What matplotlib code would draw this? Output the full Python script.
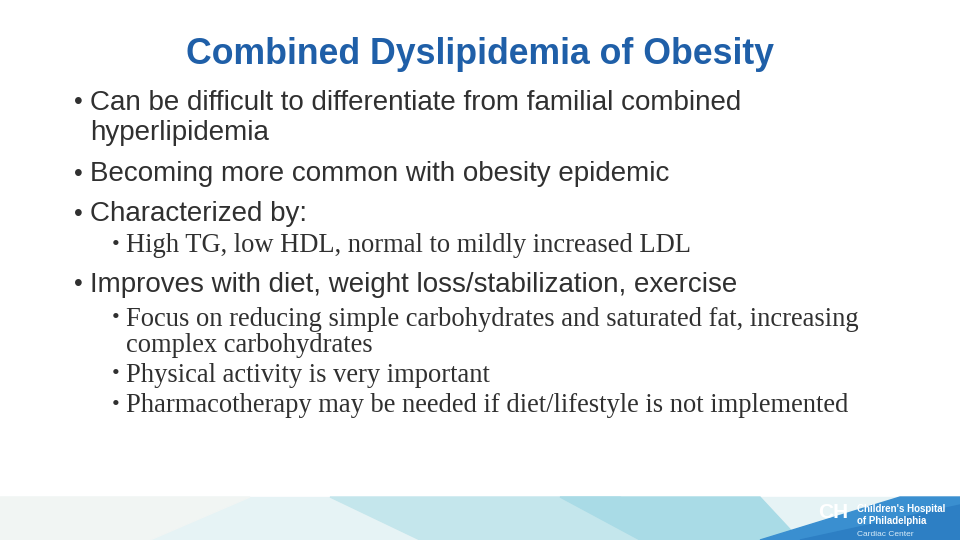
import matplotlib.pyplot as plt
from matplotlib.patches import Polygon

title = "Combined Dyslipidemia of Obesity"
# (level, text, y pixel, bullet?)
lines = [
    (0, "Can be difficult to differentiate from familial combined", 102, True),
    (0, "hyperlipidemia", 132, False),
    (0, "Becoming more common with obesity epidemic", 173, True),
    (0, "Characterized by:", 213, True),
    (1, "High TG, low HDL, normal to mildly increased LDL", 245, True),
    (0, "Improves with diet, weight loss/stabilization, exercise", 284, True),
    (1, "Focus on reducing simple carbohydrates and saturated fat, increasing", 318, True),
    (1, "complex carbohydrates", 344, False),
    (1, "Physical activity is very important", 374, True),
    (1, "Pharmacotherapy may be needed if diet/lifestyle is not implemented", 405, True),
]

W, H = 960, 540
fig = plt.figure(figsize=(9.6, 5.4), dpi=100)
fig.patch.set_facecolor("white")
ax = fig.add_axes([0, 0, 1, 1])
ax.set_xlim(0, W)
ax.set_ylim(H, 0)
ax.axis("off")

ax.text(480, 50, title, ha="center", va="center_baseline", fontsize=25.7, fontweight="bold",
        color="#1f5fa8", family="Liberation Sans")

for level, txt, y, bullet in lines:
    if level == 0:
        if bullet:
            ax.text(74, y - 2, "•", ha="left", va="center_baseline", fontsize=18, color="#303030",
                    family="Liberation Sans")
        ax.text(90, y - 2, txt, ha="left", va="center_baseline", fontsize=20, color="#303030",
                family="Liberation Sans")
    else:
        if bullet:
            ax.text(112, y - 2, "•", ha="left", va="center_baseline", fontsize=16, color="#303030",
                    family="Liberation Serif")
        ax.text(126, y - 2, txt, ha="left", va="center_baseline", fontsize=19.1, color="#303030",
                family="Liberation Serif")

# bottom banner
ax.add_patch(Polygon([[0, 497], [960, 497], [960, 540], [0, 540]], color="#e6f3f5"))
ax.add_patch(Polygon([[0, 497], [250, 497], [150, 540], [0, 540]], color="#f1f5f3"))
ax.add_patch(Polygon([[330, 497], [620, 497], [700, 540], [420, 540]], color="#c4e6ec"))
ax.add_patch(Polygon([[560, 497], [760, 497], [800, 540], [640, 540]], color="#a9dbe6"))
ax.add_patch(Polygon([[760, 540], [900, 497], [960, 497], [960, 540]], color="#3a8fd0"))
ax.add_patch(Polygon([[800, 540], [960, 505], [960, 540]], color="#2d7fc4"))
ax.text(833, 513, "CH", ha="center", va="center", fontsize=15, fontweight="bold",
        color="white", family="Liberation Sans")
ax.text(857, 509, "Children's Hospital", ha="left", va="center", fontsize=7,
        fontweight="bold", color="white", family="Liberation Sans")
ax.text(857, 521, "of Philadelphia", ha="left", va="center", fontsize=7,
        fontweight="bold", color="white", family="Liberation Sans")
ax.text(857, 534, "Cardiac Center", ha="left", va="center", fontsize=6,
        color="#d8ecf8", family="Liberation Sans")

fig.savefig("out.png", dpi=100)
